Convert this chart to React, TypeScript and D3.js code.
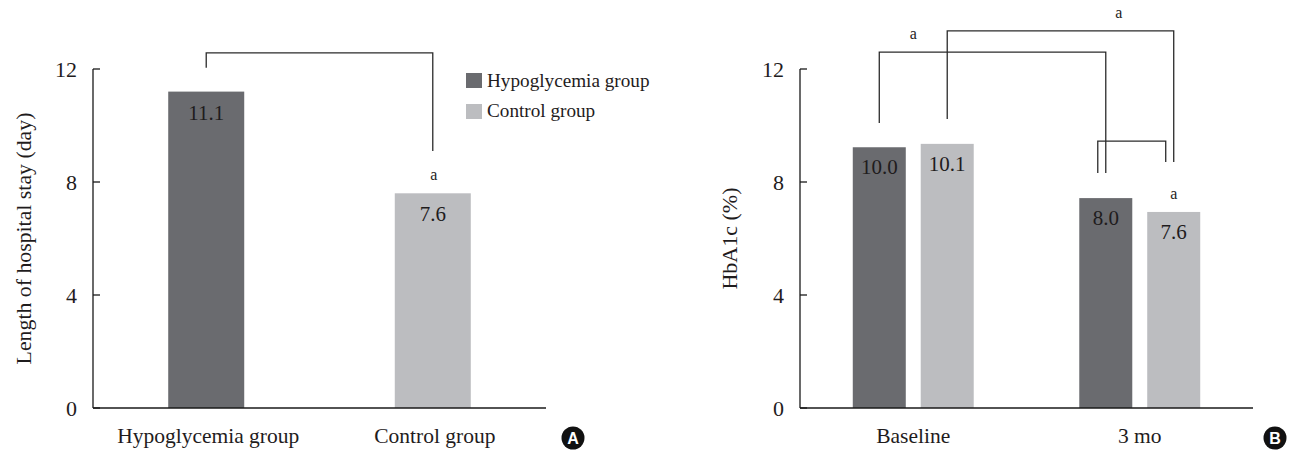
import React from "react";
import * as d3 from "d3";

// ---------- data ----------
const panelACategories = ["Hypoglycemia group", "Control group"];
const panelAValues = [11.2, 7.6]; // bar heights as drawn
const panelALabels = ["11.1", "7.6"];

const panelBCategories = ["Baseline", "3 mo"];
const panelBSeries = ["Hypoglycemia group", "Control group"];
const panelBHypoValues = [9.23, 7.43]; // bar heights as drawn
const panelBControlValues = [9.35, 6.94];
const panelBHypoLabels = ["10.0", "8.0"];
const panelBControlLabels = ["10.1", "7.6"];

const yTicks = [0, 4, 8, 12];
const yDomain = [0, 12];

const COLORS = ["#6a6b6f", "#bcbdc0"];
const FONT = "'Liberation Serif', 'Times New Roman', serif";
const TEXT = "#1f1c1d";

const W = 1290;
const H = 452;

function YAxis({ x, y, title, titleX, titleSize }: { x: number; y: d3.ScaleLinear<number, number>; title: string; titleX: number; titleSize: number }) {
  const [r0, r1] = y.range();
  const mid = (r0 + r1) / 2;
  return (
    <g>
      <line x1={x} x2={x} y1={y(12)} y2={y(0)} stroke="#1a1a1a" strokeWidth={1.3} />
      {yTicks.map((t) => (
        <g key={t}>
          <line x1={x} x2={x + 7} y1={y(t)} y2={y(t)} stroke="#1a1a1a" strokeWidth={1.3} />
          <text x={x - 16} y={y(t)} dy="0.35em" textAnchor="end" fontSize={22} fill={TEXT}>
            {t}
          </text>
        </g>
      ))}
      <text
        transform={`translate(${titleX},${mid}) rotate(-90)`}
        textAnchor="middle"
        dy="0.35em"
        fontSize={titleSize}
        fill={TEXT}
      >
        {title}
      </text>
    </g>
  );
}

function Bracket({ x1, x2, yl, yr, yt }: { x1: number; x2: number; yl: number; yr: number; yt: number }) {
  return (
    <path
      d={`M${x1},${yl}V${yt}H${x2}V${yr}`}
      fill="none"
      stroke="#2b2b2b"
      strokeWidth={1.3}
    />
  );
}

function Badge({ cx, cy, letter }: { cx: number; cy: number; letter: string }) {
  return (
    <g>
      <circle cx={cx} cy={cy} r={11.5} fill="#111" />
      <text
        x={cx}
        y={cy}
        dy="0.37em"
        textAnchor="middle"
        fontSize={16}
        fontWeight="bold"
        fill="#fff"
        fontFamily="'Liberation Sans', Arial, sans-serif"
      >
        {letter}
      </text>
    </g>
  );
}

export default function App() {
  // ---- Panel A ----
  const yA = d3.scaleLinear().domain(yDomain).range([408, 69]);
  const axA = 93;
  const xA = d3
    .scaleBand<string>()
    .domain(panelACategories)
    .range([axA, 546])
    .paddingInner(0.6645)
    .paddingOuter(0.332);
  const cA = (i: number) => (xA(panelACategories[i]) as number) + xA.bandwidth() / 2;

  // ---- Panel B ----
  const yB = d3.scaleLinear().domain(yDomain).range([408, 69]);
  const axB = 800;
  const xB = d3
    .scaleBand<string>()
    .domain(panelBCategories)
    .range([axB, 1253])
    .paddingInner(0.466)
    .paddingOuter(0.233);
  const xSub = d3
    .scaleBand<string>()
    .domain(panelBSeries)
    .range([0, xB.bandwidth()])
    .paddingInner(0.22)
    .paddingOuter(0);
  const seriesValues = [panelBHypoValues, panelBControlValues];
  const seriesLabels = [panelBHypoLabels, panelBControlLabels];
  const cB = (gi: number, si: number) =>
    (xB(panelBCategories[gi]) as number) + (xSub(panelBSeries[si]) as number) + xSub.bandwidth() / 2;
  const gB = (gi: number) => (xB(panelBCategories[gi]) as number) + xB.bandwidth() / 2;

  return (
    <svg
      width={W}
      height={H}
      viewBox={`0 0 ${W} ${H}`}
      style={{ position: "absolute", left: 0, top: 0, background: "#fff" }}
      fontFamily={FONT}
    >
      <rect width={W} height={H} fill="#fff" />

      {/* ================= Panel A ================= */}
      <g>
        {panelACategories.map((c, i) => (
          <g key={c}>
            <rect
              x={xA(c)}
              y={yA(panelAValues[i])}
              width={xA.bandwidth()}
              height={yA(0) - yA(panelAValues[i])}
              fill={COLORS[i]}
            />
            <text
              x={cA(i)}
              y={yA(panelAValues[i]) + 28}
              textAnchor="middle"
              fontSize={21}
              fill={TEXT}
            >
              {panelALabels[i]}
            </text>
            <text x={cA(i) + 2} y={443} textAnchor="middle" fontSize={21.5} fill={TEXT}>
              {c}
            </text>
          </g>
        ))}
        <YAxis x={axA} y={yA} title="Length of hospital stay (day)" titleX={23} titleSize={21.8} />
        <line x1={axA} x2={546} y1={yA(0)} y2={yA(0)} stroke="#1a1a1a" strokeWidth={1.3} />

        <Bracket x1={cA(0)} x2={cA(1)} yl={yA(12.04)} yr={yA(9.1)} yt={yA(12.57)} />
        <text x={cA(1) + 1} y={180} textAnchor="middle" fontSize={16} fill={TEXT}>
          a
        </text>

        {/* legend */}
        {panelBSeries.map((s, i) => (
          <g key={s}>
            <rect x={466} y={73 + i * 31} width={16} height={15} fill={COLORS[i]} />
            <text x={487} y={87 + i * 30} fontSize={19.2} fill={TEXT}>
              {s}
            </text>
          </g>
        ))}
        <Badge cx={573} cy={438} letter="A" />
      </g>

      {/* ================= Panel B ================= */}
      <g>
        {panelBCategories.map((c, gi) => (
          <g key={c}>
            {panelBSeries.map((s, si) => {
              const v = seriesValues[si][gi];
              return (
                <g key={s}>
                  <rect
                    x={(xB(c) as number) + (xSub(s) as number)}
                    y={yB(v)}
                    width={xSub.bandwidth()}
                    height={yB(0) - yB(v)}
                    fill={COLORS[si]}
                  />
                  <text
                    x={cB(gi, si)}
                    y={yB(v) + 27}
                    textAnchor="middle"
                    fontSize={21}
                    fill={TEXT}
                  >
                    {seriesLabels[si][gi]}
                  </text>
                </g>
              );
            })}
            <text x={gB(gi)} y={443} textAnchor="middle" fontSize={21.5} fill={TEXT}>
              {c}
            </text>
          </g>
        ))}
        <YAxis x={axB} y={yB} title="HbA1c (%)" titleX={729} titleSize={22} />
        <line x1={axB} x2={1253} y1={yB(0)} y2={yB(0)} stroke="#1a1a1a" strokeWidth={1.3} />

        {/* baseline hypo vs 3mo hypo */}
        <Bracket x1={cB(0, 0)} x2={cB(1, 0)} yl={yB(10.09)} yr={yB(8.32)} yt={yB(12.6)} />
        <text x={gB(0)} y={39} textAnchor="middle" fontSize={16} fill={TEXT}>
          a
        </text>
        {/* baseline control vs 3mo control */}
        <Bracket x1={cB(0, 1)} x2={cB(1, 1)} yl={yB(10.23)} yr={yB(8.71)} yt={yB(13.35)} />
        <text x={gB(1) - 21} y={18} textAnchor="middle" fontSize={16} fill={TEXT}>
          a
        </text>
        {/* 3mo hypo vs 3mo control */}
        <Bracket x1={cB(1, 0) - 8} x2={cB(1, 1) - 8} yl={yB(8.32)} yr={yB(8.71)} yt={yB(9.45)} />
        <text x={cB(1, 1)} y={199} textAnchor="middle" fontSize={16} fill={TEXT}>
          a
        </text>

        <Badge cx={1275} cy={438} letter="B" />
      </g>
    </svg>
  );
}
